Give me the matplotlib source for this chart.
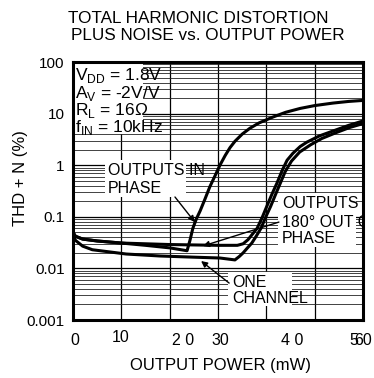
import numpy as np
import matplotlib
matplotlib.use('Agg')
import matplotlib.pyplot as plt
from matplotlib.patches import Rectangle

plt.rcParams['font.family'] = ['Liberation Sans', 'DejaVu Sans']
plt.rcParams['mathtext.fontset'] = 'custom'
plt.rcParams['mathtext.rm'] = 'Liberation Sans'

# curve data (x in mW, y in %)
in_phase_x = [0, 0.5, 2, 5, 10, 15, 20, 23.6, 24.2, 24.8, 25.5, 26.3, 27.3, 28.3, 29.3, 30.4,
              31.5, 32.5, 33.5, 35, 36.6, 38.5, 41.4, 44, 47, 50, 53.8, 57, 60]
in_phase_y = [0.05, 0.042, 0.037, 0.034, 0.031, 0.028, 0.025, 0.022, 0.035, 0.06, 0.09, 0.13, 0.22, 0.38, 0.6, 1.0,
              1.55, 2.2, 2.9, 4.0, 5.2, 6.6, 8.6, 10.6, 12.6, 14.3, 16.0, 17.2, 18.0]

out_phase_x = [0, 0.5, 2, 5, 10, 20, 30, 34, 35.2, 36.2, 37.2, 38.1, 39.1, 40.1, 41.2, 42.2, 43.3,
               44.3, 45.5, 47, 48.4, 51, 53.8, 57, 60]
out_phase_y = [0.05, 0.042, 0.037, 0.034, 0.031, 0.029, 0.028, 0.028, 0.03, 0.036, 0.047, 0.06, 0.095, 0.16, 0.28, 0.45, 0.8,
               1.25, 1.7, 2.3, 2.8, 3.7, 4.6, 5.9, 7.2]

one_ch_x = [0, 0.5, 2, 4, 11, 18, 25, 30.4, 33.5, 34.4, 35.2, 36.1, 37.0, 37.9, 38.9, 39.9, 40.9, 41.9,
            42.9, 43.9, 45.2, 46.9, 49.2, 51.5, 54.5, 57.3, 60]
one_ch_y = [0.045, 0.035, 0.027, 0.023, 0.019, 0.0174, 0.0165, 0.0159, 0.0146, 0.017, 0.02, 0.025, 0.031, 0.042, 0.06, 0.1, 0.16, 0.27,
            0.45, 0.75, 1.2, 1.8, 2.5, 3.3, 4.3, 5.4, 6.4]

y_ticks = [0.001, 0.01, 0.1, 1, 10, 100]
y_labels = ['0.001', '0.01', '0.1', '1', '10', '100']
x_grid = [0, 10, 20, 30, 40, 50, 60]
# the scanned axis labels sit at odd places
x_label_pos = [0.3, 9.8, 22.8, 30.5, 45.3, 58.2, 60.1]
x_label_txt = ['0', '10', '2 0', '30', '4 0', '5', '60']
x_label_y = [-0.097, -0.085, -0.097, -0.097, -0.097, -0.097, -0.097]

fig = plt.figure(figsize=(3.74, 3.78), dpi=100)
ax = fig.add_axes([73/374, 58/378, 290/374, 258/378])

ax.set_yscale('log')
ax.set_xlim(0, 60)
ax.set_ylim(0.001, 100)
ax.set_yticks(y_ticks, labels=y_labels)
ax.set_xticks(x_grid, labels=[''] * len(x_grid))
ax.tick_params(axis='both', which='both', length=0, labelsize=11)
ax.tick_params(axis='y', pad=6)
ax.grid(which='major', color='black', lw=0.9)
ax.grid(which='minor', axis='y', color='#222222', lw=0.6)
ax.set_axisbelow(True)
for s in ax.spines.values():
    s.set_linewidth(2.2)
    s.set_zorder(6)

for i, t in enumerate(x_label_txt):
    ax.text(x_label_pos[i], x_label_y[i], t, transform=ax.get_xaxis_transform(),
            ha='center', va='baseline', fontsize=11.5)

ax.plot(in_phase_x, in_phase_y, color='black', lw=2.2, zorder=4)
ax.plot(out_phase_x, out_phase_y, color='black', lw=2.2, zorder=4)
ax.plot(one_ch_x, one_ch_y, color='black', lw=2.2, zorder=4)

# white patches behind the labels
def patch(x0, x1, y0, y1):
    ax.add_patch(Rectangle(((x0-73)/290, (320-y1)/258), (x1-x0)/290, (y1-y0)/258,
                           transform=ax.transAxes, color='white', zorder=2, lw=0))

patch(74, 143, 64, 134)
patch(105, 186, 160, 197)
patch(278, 356, 193, 247)
patch(228, 292, 272, 306)

cond = ['V$_\\mathrm{DD}$ = 1.8V', 'A$_\\mathrm{V}$ = -2V/V', 'R$_\\mathrm{L}$ = 16\u03a9', 'f$_\\mathrm{IN}$ = 10kHz']
cond_y = [44.8, 20.0, 9.4, 4.4]
for t, yy in zip(cond, cond_y):
    ax.text(0.4, yy, t, fontsize=12.5, va='baseline', ha='left', zorder=3)

fs = 11.5
ax.text(7.2, 0.646, 'OUTPUTS IN', fontsize=fs, va='baseline', zorder=3)
ax.text(7.2, 0.289, 'PHASE', fontsize=fs, va='baseline', zorder=3)
ax.text(43.2, 0.148, 'OUTPUTS', fontsize=fs, va='baseline', zorder=3)
ax.text(43.2, 0.0634, '180\u00b0 OUT OF', fontsize=fs, va='baseline', zorder=3, clip_on=True)
ax.text(43.2, 0.031, 'PHASE', fontsize=fs, va='baseline', zorder=3)
ax.text(32.9, 0.00436, 'ONE', fontsize=fs, va='baseline', zorder=3)
ax.text(32.9, 0.00213, 'CHANNEL', fontsize=fs, va='baseline', zorder=3)

arr = dict(arrowstyle='-|>', color='black', lw=1.0, mutation_scale=9, shrinkA=0, shrinkB=0)
ax.annotate('', xy=(25.2, 0.079), xytext=(21.1, 0.242), arrowprops=arr, zorder=5)
ax.annotate('', xy=(26.9, 0.0272), xytext=(42.6, 0.079), arrowprops=arr, zorder=5)
ax.annotate('', xy=(26.5, 0.0139), xytext=(32.3, 0.0052), arrowprops=arr, zorder=5)

fig.text(220/374, 1 - 370/378, 'OUTPUT POWER (mW)', ha='center', va='baseline', fontsize=12)
fig.text(21/374, 1 - 178/378, 'THD + N (%)', ha='center', va='center', rotation=90, fontsize=12)

fig.text(198/374, 1 - 23/378, 'TOTAL HARMONIC DISTORTION', ha='center', va='baseline', fontsize=12.3)
fig.text(208/374, 1 - 40/378, 'PLUS NOISE vs. OUTPUT POWER', ha='center', va='baseline', fontsize=12.3)

fig.savefig('out.png', dpi=100)
